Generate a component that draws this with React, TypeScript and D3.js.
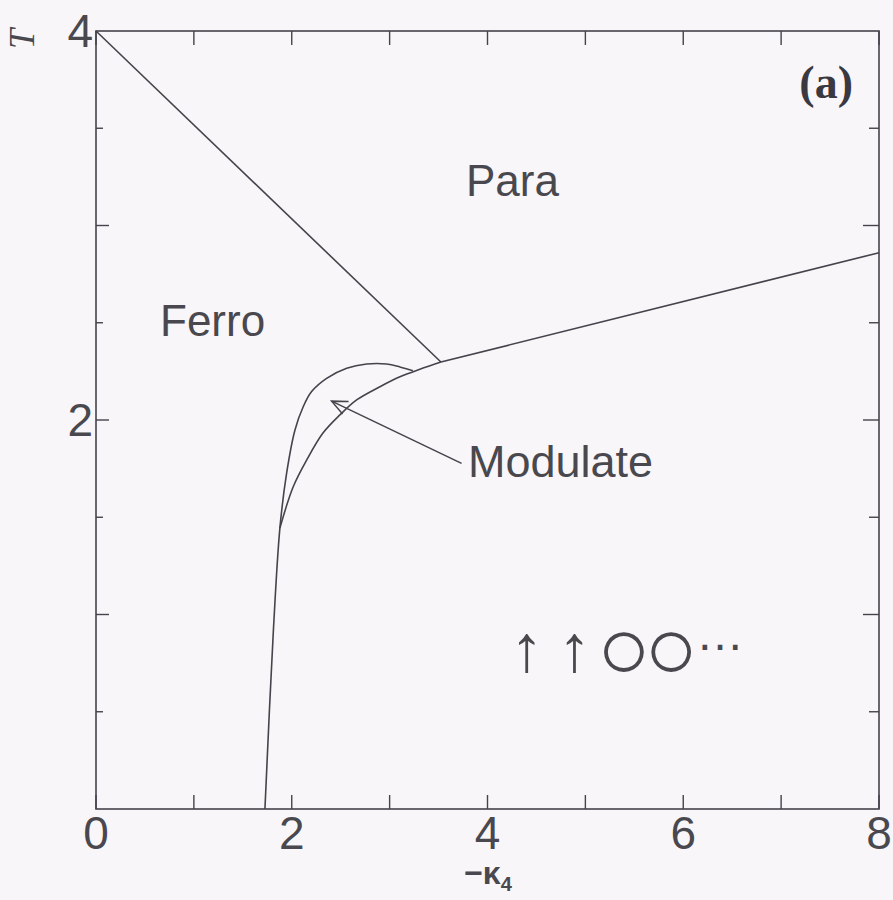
import React from "react";
import * as d3 from "d3";

// Phase diagram: temperature T against −κ4
const xDomain: [number, number] = [0, 8];
const yDomain: [number, number] = [0, 4];
const xTickValues = [0, 1, 2, 3, 4, 5, 6, 7, 8];
const xTickLabels = [0, 2, 4, 6, 8];
const yTickValues = [0.5, 1, 1.5, 2, 2.5, 3, 3.5];
const yTickLabels = [2, 4];

// Ferro / Para boundary (straight line to the triple point)
const ferroParaLine: [number, number][] = [
  [0, 4],
  [3.524, 2.298],
];

// Modulated / Para boundary
const modParaLine: [number, number][] = [
  [3.524, 2.298],
  [8, 2.86],
];

// Ferro / Modulated boundary, from T = 0 up into the bulge
const ferroModLine: [number, number][] = [
  [1.726, 0],
  [1.811, 0.905],
  [1.879, 1.445],
  [1.948, 1.728],
  [2.033, 1.949],
  [2.117, 2.068],
  [2.203, 2.146],
  [2.356, 2.214],
  [2.561, 2.266],
  [2.765, 2.288],
  [2.969, 2.288],
  [3.105, 2.273],
  [3.238, 2.253],
];

// Lower boundary of the modulated pocket
const modPocketLine: [number, number][] = [
  [1.879, 1.445],
  [2.015, 1.657],
  [2.152, 1.794],
  [2.319, 1.933],
  [2.492, 2.026],
  [2.663, 2.103],
  [2.901, 2.171],
  [3.105, 2.222],
  [3.309, 2.261],
  [3.524, 2.298],
];

// Pointer from the "Modulate" label into the pocket
const pointerTail: [number, number] = [3.735, 1.777];
const pointerTip: [number, number] = [2.407, 2.097];

// Spin pattern legend: two up spins, two empty sites, then repetition
const spinArrows = ["↑", "↑"];
const spinArrowX = [4.4, 4.89];
const emptySites = "○○";
const emptySitesX = 5.6;
const ellipsisX = 6.13;
const spinT = 0.83;

const W = 893;
const H = 900;
const left = 96;
const right = 879;
const top = 31;
const bottom = 809;

const ink = "#45434c";
const textInk = "#4a484f";

export default function App() {
  const x = d3.scaleLinear().domain(xDomain).range([left, right]);
  const y = d3.scaleLinear().domain(yDomain).range([bottom, top]);

  const straight = d3
    .line<[number, number]>()
    .x((d) => x(d[0]))
    .y((d) => y(d[1]));
  const smooth = d3
    .line<[number, number]>()
    .x((d) => x(d[0]))
    .y((d) => y(d[1]))
    .curve(d3.curveCatmullRom.alpha(0.5));

  // open arrow head at the pointer tip
  const tx = x(pointerTip[0]);
  const ty = y(pointerTip[1]);
  const ang = Math.atan2(y(pointerTail[1]) - ty, x(pointerTail[0]) - tx);
  const headLen = 17;
  const spread = 0.42;
  const h1 = [tx + headLen * Math.cos(ang - spread), ty + headLen * Math.sin(ang - spread)];
  const h2 = [tx + headLen * Math.cos(ang + spread), ty + headLen * Math.sin(ang + spread)];

  const sans = "'Liberation Sans', Arial, Helvetica, sans-serif";
  const serif = "'Liberation Serif', 'Times New Roman', serif";
  const spinY = y(spinT);

  return (
    <svg
      width={W}
      height={H}
      style={{ position: "absolute", left: 0, top: 0, display: "block" }}
    >
      <rect x={0} y={0} width={W} height={H} fill="#f8f6f8" />

      {/* frame */}
      <rect
        x={left}
        y={top}
        width={right - left}
        height={bottom - top}
        fill="none"
        stroke={ink}
        strokeWidth={1.6}
      />

      {/* x ticks, bottom and top */}
      {xTickValues.map((v) => (
        <g key={"xt" + v}>
          <line x1={x(v)} x2={x(v)} y1={bottom} y2={bottom - 14} stroke={ink} strokeWidth={1.4} />
          <line x1={x(v)} x2={x(v)} y1={top} y2={top + 14} stroke={ink} strokeWidth={1.4} />
        </g>
      ))}
      {/* y ticks, left and right */}
      {yTickValues.map((v) => {
        const len = Number.isInteger(v) ? 13 : 7;
        return (
          <g key={"yt" + v}>
            <line x1={left} x2={left + len} y1={y(v)} y2={y(v)} stroke={ink} strokeWidth={1.4} />
            <line x1={right} x2={right - len - 3} y1={y(v)} y2={y(v)} stroke={ink} strokeWidth={1.4} />
          </g>
        );
      })}

      {/* tick labels */}
      {xTickLabels.map((v) => (
        <text
          key={"xl" + v}
          x={x(v)}
          y={bottom + 40}
          textAnchor="middle"
          fontFamily={sans}
          fontSize={46}
          fill={textInk}
        >
          {v}
        </text>
      ))}
      {yTickLabels.map((v) => (
        <text
          key={"yl" + v}
          x={left - 3}
          y={y(v) + 16}
          textAnchor="end"
          fontFamily={sans}
          fontSize={46}
          fill={textInk}
        >
          {v}
        </text>
      ))}

      {/* axis titles */}
      <text
        x={488}
        y={884}
        textAnchor="middle"
        fontFamily={sans}
        fontSize={32}
        fontWeight="bold"
        fill={textInk}
      >
        −κ<tspan fontSize={20} dy={7}>4</tspan>
      </text>
      <text
        transform="translate(34,39) rotate(-90)"
        textAnchor="middle"
        fontFamily={serif}
        fontStyle="italic"
        fontSize={36}
        fill={textInk}
      >
        T
      </text>

      {/* phase boundaries */}
      <path d={straight(ferroParaLine) ?? ""} fill="none" stroke={ink} strokeWidth={1.6} />
      <path d={straight(modParaLine) ?? ""} fill="none" stroke={ink} strokeWidth={1.6} />
      <path d={smooth(ferroModLine) ?? ""} fill="none" stroke={ink} strokeWidth={1.6} />
      <path d={smooth(modPocketLine) ?? ""} fill="none" stroke={ink} strokeWidth={1.6} />

      {/* pointer */}
      <line
        x1={x(pointerTail[0])}
        y1={y(pointerTail[1])}
        x2={tx}
        y2={ty}
        stroke={ink}
        strokeWidth={1.5}
      />
      <polyline
        points={`${h1[0]},${h1[1]} ${tx},${ty} ${h2[0]},${h2[1]}`}
        fill="none"
        stroke={ink}
        strokeWidth={1.5}
      />

      {/* region labels */}
      <text x={466} y={196} fontFamily={sans} fontSize={44} fill={textInk}>
        Para
      </text>
      <text x={160} y={336} fontFamily={sans} fontSize={44} fill={textInk}>
        Ferro
      </text>
      <text x={468} y={477} fontFamily={sans} fontSize={45} fill={textInk}>
        Modulate
      </text>
      <text x={853} y={98} textAnchor="end" fontFamily={serif} fontWeight="bold" fontSize={46} fill="#3a3840">
        (a)
      </text>

      {/* spin pattern */}
      {spinArrows.map((s, i) => (
        <text
          key={"sp" + i}
          x={x(spinArrowX[i])}
          y={spinY}
          textAnchor="middle"
          dominantBaseline="central"
          fontFamily={sans}
          fontSize={66}
          fill={textInk}
        >
          {s}
        </text>
      ))}
      <text
        x={x(emptySitesX)}
        y={spinY}
        textAnchor="middle"
        dominantBaseline="central"
        fontFamily={sans}
        fontSize={90}
        letterSpacing={-7}
        fill={textInk}
      >
        {emptySites}
      </text>
      <text
        x={x(ellipsisX)}
        y={spinY + 2}
        fontFamily={sans}
        fontSize={48}
        fill={textInk}
      >
        …
      </text>
    </svg>
  );
}
